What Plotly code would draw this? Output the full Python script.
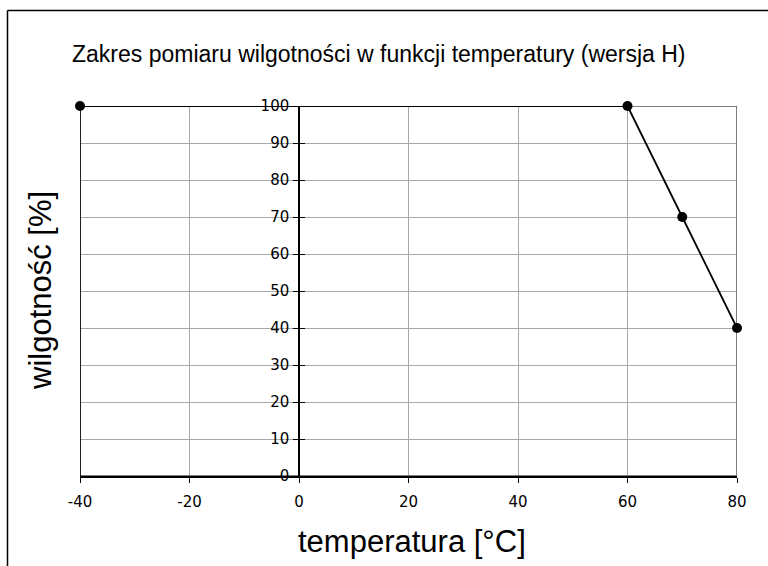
import plotly.graph_objects as go

# data
temperature = [-40, 60, 70, 80]
humidity = [100, 100, 70, 40]

x_ticks = [-40, -20, 0, 20, 40, 60, 80]
y_ticks = [0, 10, 20, 30, 40, 50, 60, 70, 80, 90, 100]

title_text = "Zakres pomiaru wilgotności w funkcji temperatury (wersja H)"
x_title = "temperatura [°C]"
y_title = "wilgotność [%]"

W, H = 768, 566
ML, MR, MT, MB = 80, 31, 106, 90
PW, PH = W - ML - MR, H - MT - MB

def px_x(p):
    return (p - ML) / PW

def px_y(p):
    return (H - MB - p) / PH

xr = [x_ticks[0], x_ticks[-1]]
yr = [y_ticks[0], y_ticks[-1]]
ypos = (0 - xr[0]) / (xr[1] - xr[0])

fig = go.Figure()
fig.add_trace(go.Scatter(
    x=temperature, y=humidity, mode="lines+markers",
    line=dict(color="black", width=1.8),
    marker=dict(color="black", size=10),
    cliponaxis=False, showlegend=False, hoverinfo="skip",
))
fig.add_trace(go.Scatter(
    x=temperature, y=humidity, mode="none", yaxis="y2",
    showlegend=False, hoverinfo="skip",
))

tickfont = dict(family="DejaVu Sans", size=15, color="black")

fig.update_layout(
    width=W, height=H,
    margin=dict(l=ML, r=MR, t=MT, b=MB),
    paper_bgcolor="white", plot_bgcolor="white",
    title=dict(
        text=title_text,
        font=dict(family="Liberation Sans", size=23, color="black"),
        x=72 / W, xanchor="left", xref="container",
        y=1 - 54 / H, yanchor="middle", yref="container",
    ),
    xaxis=dict(
        range=xr, tickvals=x_ticks, ticktext=[str(v) for v in x_ticks],
        showgrid=True, gridcolor="#a8a8a8", gridwidth=1,
        showline=True, linecolor="black", linewidth=1.5,
        ticks="outside", ticklen=5, tickcolor="black",
        tickfont=tickfont, ticklabelstandoff=6,
        zeroline=False,
    ),
    yaxis=dict(
        range=yr, tickvals=y_ticks, ticktext=[str(v) for v in y_ticks],
        anchor="free", position=ypos,
        showgrid=True, gridcolor="#a8a8a8", gridwidth=1,
        showline=True, linecolor="black", linewidth=1.5,
        ticks="outside", ticklen=5, tickcolor="black",
        tickfont=tickfont, ticklabelstandoff=1,
        zeroline=False,
    ),
    yaxis2=dict(
        range=yr, tickvals=y_ticks, overlaying="y",
        anchor="free", position=ypos,
        showgrid=False, showline=False, showticklabels=False,
        ticks="inside", ticklen=5, tickcolor="black",
        zeroline=False,
    ),
    shapes=[
        # plot frame (top and right in dark gray)
        dict(type="rect", xref="x", yref="y", x0=xr[0], x1=xr[1], y0=yr[0], y1=yr[1],
             line=dict(color="#555555", width=1.5), layer="between"),
        dict(type="line", xref="x", yref="y", x0=xr[0], x1=xr[0], y0=yr[0], y1=yr[1],
             line=dict(color="black", width=1.5), layer="between"),
        # outer frame
        dict(type="line", xref="paper", yref="paper",
             x0=px_x(7.5), x1=px_x(W + 5), y0=px_y(10.5), y1=px_y(10.5),
             line=dict(color="black", width=1.5)),
        dict(type="line", xref="paper", yref="paper",
             x0=px_x(7.5), x1=px_x(7.5), y0=px_y(10.5), y1=px_y(H + 5),
             line=dict(color="black", width=1.5)),
    ],
    annotations=[
        dict(text=x_title, xref="paper", yref="paper",
             x=px_x(412), y=px_y(541), xanchor="center", yanchor="middle",
             showarrow=False, font=dict(family="Liberation Sans", size=31, color="black")),
        dict(text=y_title, xref="paper", yref="paper", textangle=-90,
             x=px_x(40), y=px_y(291), xanchor="center", yanchor="middle",
             showarrow=False, font=dict(family="Liberation Sans", size=31, color="black")),
    ],
)

fig.write_html(
    "out.html",
    config={"displayModeBar": False},
    post_script="document.body.style.margin='0';document.body.style.overflow='hidden';",
)
